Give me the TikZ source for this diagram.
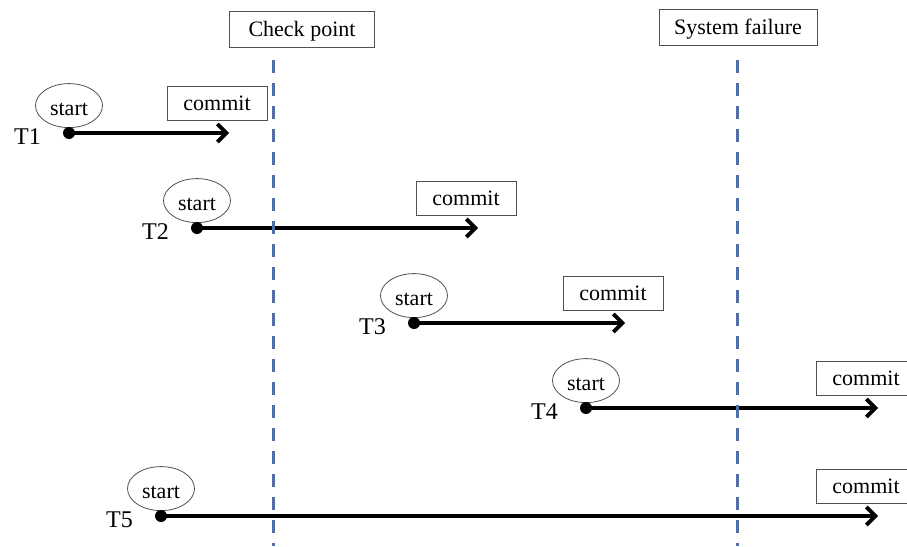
\documentclass[tikz,border=0pt]{standalone}
\usepackage{fontspec}
\setmainfont{Liberation Serif}
\usetikzlibrary{arrows.meta,positioning,shapes.geometric}

\definecolor{markblue}{RGB}{74,112,180}
\definecolor{edgegray}{RGB}{80,80,80}

\tikzset{
  startbub/.style={ellipse, draw=edgegray, line width=0.8pt, minimum width=67pt,
    minimum height=44pt, inner sep=0pt, text height=20pt, text depth=0pt,
    font=\fontsize{22}{22}\selectfont},
  commitbox/.style={rectangle, draw=edgegray, line width=1pt, minimum width=100pt,
    minimum height=34pt, inner sep=0pt, text height=17pt, text depth=3pt,
    font=\fontsize{22}{22}\selectfont},
  eventbox/.style={commitbox, minimum height=36pt},
  tlabel/.style={inner sep=1pt, font=\fontsize{24}{24}\selectfont},
  txn/.style={line width=3.8pt, -{Straight Barb[length=9pt,width=18pt]}},
  marker/.style={markblue, line width=3pt, dash pattern=on 13pt off 10pt},
}

\begin{document}
\begin{tikzpicture}[x=1pt, y=-1pt]
    \useasboundingbox (0,0) rectangle (907,546);

    \node[eventbox, minimum width=145pt] (cp) at (302,29) {Check point};
    \node[eventbox, minimum width=158pt] (sf) at (738,27) {System failure};

    \coordinate (cptop) at (273,60);
    \coordinate (cpbot) at (273,546);
    \coordinate (sftop) at (737,60);
    \coordinate (sfbot) at (737,546);

    % one row per transaction: number / start x / end x / y
    \foreach \n/\a/\b/\y in {1/69/229/133, 2/197/478/228, 3/414/625/323,
                             4/586/878/408, 5/161/878/516} {
        \coordinate (s\n) at (\a,\y);
        \coordinate (e\n) at (\b,\y);
        \node[startbub, above=5pt of s\n] (st\n) {start};
        \node[commitbox, above=12pt of e\n, xshift=-12pt] (cm\n) {commit};
        \node[tlabel, left=27pt of s\n, yshift=-4pt] (t\n) {T\n};
        \draw[txn] (s\n) -- (e\n);
        \fill (s\n) circle (6pt);
    }

    \draw[marker] (cptop) -- (cpbot);
    \draw[marker] (sftop) -- (sfbot);
\end{tikzpicture}
\end{document}
